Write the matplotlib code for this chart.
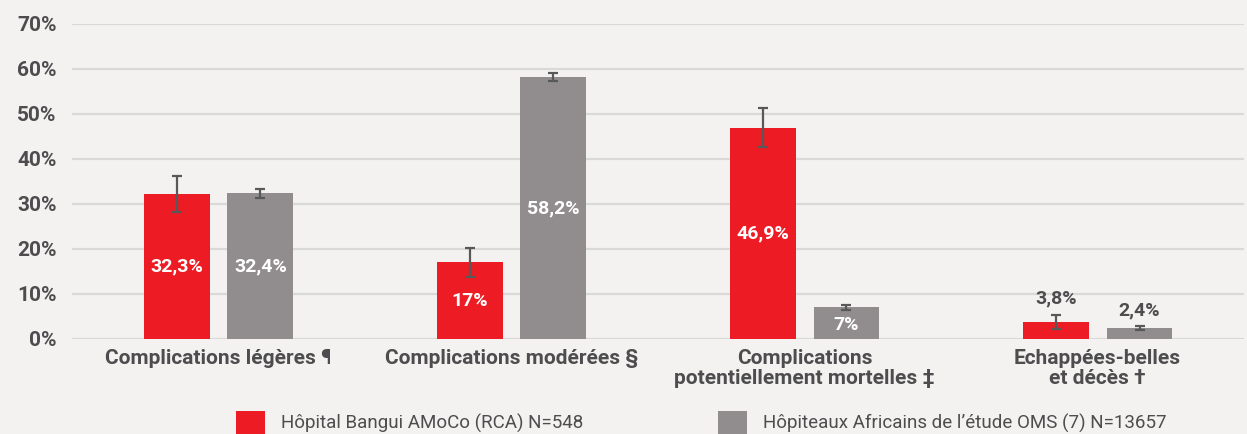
import numpy as np
import matplotlib
matplotlib.use("Agg")
import matplotlib.pyplot as plt

# --- Data ---
categories = ["Complications légères ¶", "Complications modérées §",
              "Complications\npotentiellement mortelles ‡", "Echappées-belles\net décès †"]
bangui = [32.3, 17.0, 46.9, 3.8]
oms = [32.4, 58.2, 7.0, 2.4]
bangui_err = [4.0, 3.3, 4.3, 1.6]
oms_err = [1.0, 0.9, 0.6, 0.4]
bangui_labels = ["32,3%", "17%", "46,9%", "3,8%"]
oms_labels = ["32,4%", "58,2%", "7%", "2,4%"]
legend_names = ["Hôpital Bangui AMoCo (RCA) N=548",
                "Hôpiteaux Africains de l’étude OMS (7) N=13657"]

RED = "#ed1c24"
GREY = "#918d8e"
BG = "#f3f2f0"
TXT = "#4d4d4f"

plt.rcParams['font.family'] = ['Roboto', 'DejaVu Sans']

fig = plt.figure(figsize=(12.47, 4.34), dpi=100, facecolor=BG)
ax = fig.add_axes([0.0577, 0.219, 0.94, 0.726])
ax.set_facecolor(BG)

x = np.arange(len(categories))
w = 0.225
off = 0.143

b1 = ax.bar(x - off, bangui, w, color=RED, zorder=3)
b2 = ax.bar(x + off, oms, w, color=GREY, zorder=3)
ax.errorbar(x - off, bangui, yerr=bangui_err, fmt="none", ecolor="#58585a",
            elinewidth=1.6, capsize=3.5, capthick=1.6, zorder=4)
ax.errorbar(x + off, oms, yerr=oms_err, fmt="none", ecolor="#58585a",
            elinewidth=1.6, capsize=3.5, capthick=1.6, zorder=4)

# value labels: inside bars when tall enough, above the error bar otherwise
for xs, vals, errs, labs in [(x - off, bangui, bangui_err, bangui_labels),
                             (x + off, oms, oms_err, oms_labels)]:
    for xi, v, e, lab in zip(xs, vals, errs, labs):
        if v > 5:
            yy = v / 2 if v > 10 else v / 2 - 0.3
            ax.text(xi, yy, lab, ha="center", va="center", color="white",
                    fontsize=14, fontweight="bold", zorder=5)
        else:
            ax.annotate(lab, (xi, v + e), xytext=(0, 5), textcoords="offset points",
                        ha="center", va="bottom", color=TXT,
                        fontsize=14, fontweight="bold")

ax.set_ylim(0, 70)
ax.set_xlim(-0.5, 3.5)
ax.set_yticks(range(0, 71, 10))
ax.set_yticklabels([f"{v}%" for v in range(0, 71, 10)])
ax.set_xticks(x)
ax.set_xticklabels(categories, linespacing=1.1)
ax.tick_params(axis="y", length=0, pad=11, labelsize=15, labelcolor=TXT)
ax.tick_params(axis="x", length=0, pad=7, labelsize=15, labelcolor=TXT)
for lab in ax.get_yticklabels() + ax.get_xticklabels():
    lab.set_fontweight("bold")
ax.grid(axis="y", color="#d9d9d7", linewidth=1.6, zorder=0)
ax.set_axisbelow(True)
for s in ax.spines.values():
    s.set_visible(False)

# legend, partly cut at the bottom edge like the original
for handle, name, xpos in [(b1, legend_names[0], 0.189), (b2, legend_names[1], 0.576)]:
    fig.legend([handle], [name], loc="upper left", bbox_to_anchor=(xpos, 0.053),
               frameon=False, fontsize=13.5, labelcolor=TXT, handlelength=1.55,
               handleheight=1.6, handletextpad=0.85, borderpad=0, borderaxespad=0)

fig.savefig("out.png", dpi=100, facecolor=BG)
